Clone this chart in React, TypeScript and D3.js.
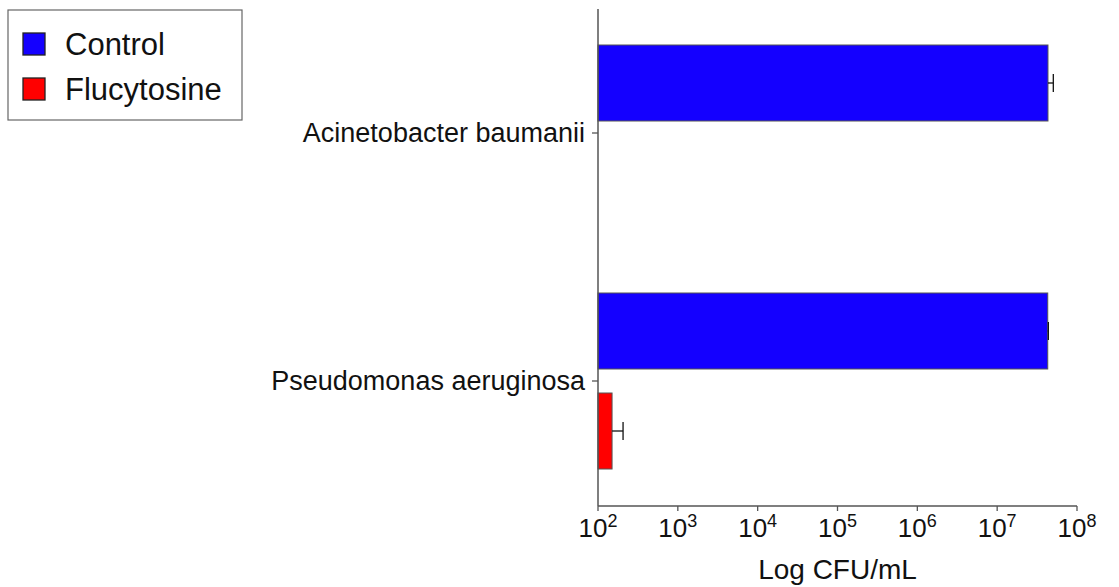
import React from "react";
import * as d3 from "d3";

const categories = ["Acinetobacter baumanii", "Pseudomonas aeruginosa"];
const seriesNames = ["Control", "Flucytosine"];
const controlValues = [4.33e7, 4.3e7];
const controlErrors = [0.72e7, 0.08e7];
const flucytosineValues: (number | null)[] = [null, 150];
const flucytosineErrors: (number | null)[] = [null, 56];
const tickExponents = [2, 3, 4, 5, 6, 7, 8];
const seriesColors = ["#1400ff", "#ff0000"];

const W = 1119;
const H = 587;
const FONT = "'Liberation Sans', Arial, Helvetica, sans-serif";

export default function App() {
  const x = d3.scaleLog().domain([1e2, 1e8]).range([598, 1077]);
  const y = d3.scaleBand().domain(categories).range([9, 505]).padding(0);
  const inner = d3
    .scaleBand()
    .domain(seriesNames)
    .range([-88, 88])
    .paddingInner(0.24)
    .paddingOuter(0);
  const axisY = 506;
  const axisColor = "#555";

  const series = [
    { name: seriesNames[0], values: controlValues, errors: controlErrors, color: seriesColors[0] },
    { name: seriesNames[1], values: flucytosineValues, errors: flucytosineErrors, color: seriesColors[1] },
  ];

  return (
    <svg
      width={W}
      height={H}
      style={{ position: "absolute", left: 0, top: 0, background: "#fff" }}
      fontFamily={FONT}
    >
      <rect x={0} y={0} width={W} height={H} fill="#fff" />
      {/* bars */}
      {categories.map((cat, i) => {
        const center = (y(cat) as number) + y.bandwidth() / 2;
        return (
          <g key={cat}>
            {series.map((s) => {
              const v = s.values[i];
              if (v == null) return null;
              const top = center + (inner(s.name) as number);
              const h = inner.bandwidth();
              const x0 = x(1e2);
              const x1 = x(v);
              const err = s.errors[i] ?? 0;
              const xe = x(v + err);
              const cy = top + h / 2;
              return (
                <g key={s.name}>
                  <rect
                    x={x0}
                    y={top}
                    width={x1 - x0}
                    height={h}
                    fill={s.color}
                    stroke="#555"
                    strokeWidth={1}
                  />
                  <line x1={x1} x2={xe} y1={cy} y2={cy} stroke="#111" strokeWidth={1.3} />
                  <line x1={xe} x2={xe} y1={cy - 9} y2={cy + 9} stroke="#111" strokeWidth={1.3} />
                </g>
              );
            })}
          </g>
        );
      })}
      {/* y axis */}
      <line x1={598} x2={598} y1={9} y2={axisY} stroke={axisColor} strokeWidth={1.5} />
      {categories.map((cat) => {
        const center = (y(cat) as number) + y.bandwidth() / 2;
        return (
          <g key={cat}>
            <line x1={592} x2={598} y1={center} y2={center} stroke={axisColor} strokeWidth={1.3} />
            <text x={585} y={center + 9} textAnchor="end" fontSize={27} fill="#111">
              {cat}
            </text>
          </g>
        );
      })}
      {/* x axis */}
      <line x1={598} x2={1077} y1={axisY} y2={axisY} stroke={axisColor} strokeWidth={1.5} />
      {tickExponents.map((e) => {
        const tx = x(Math.pow(10, e));
        return (
          <g key={e}>
            <line x1={tx} x2={tx} y1={axisY} y2={axisY + 5} stroke={axisColor} strokeWidth={1.3} />
            <text x={tx} y={537} textAnchor="middle" fontSize={26} fill="#111">
              10
              <tspan fontSize={18} dy={-10}>
                {e}
              </tspan>
            </text>
          </g>
        );
      })}
      <text x={(598 + 1077) / 2} y={579} textAnchor="middle" fontSize={28} fill="#111">
        Log CFU/mL
      </text>
      {/* legend */}
      <rect x={8} y={10} width={234} height={110} fill="#fff" stroke="#666" strokeWidth={1.2} />
      {series.map((s, i) => (
        <g key={s.name}>
          <rect
            x={23}
            y={33 + i * 45}
            width={22}
            height={22}
            fill={s.color}
            stroke="#222"
            strokeWidth={1.3}
          />
          <text x={65} y={55 + i * 45} fontSize={31} fill="#111">
            {s.name}
          </text>
        </g>
      ))}
    </svg>
  );
}
